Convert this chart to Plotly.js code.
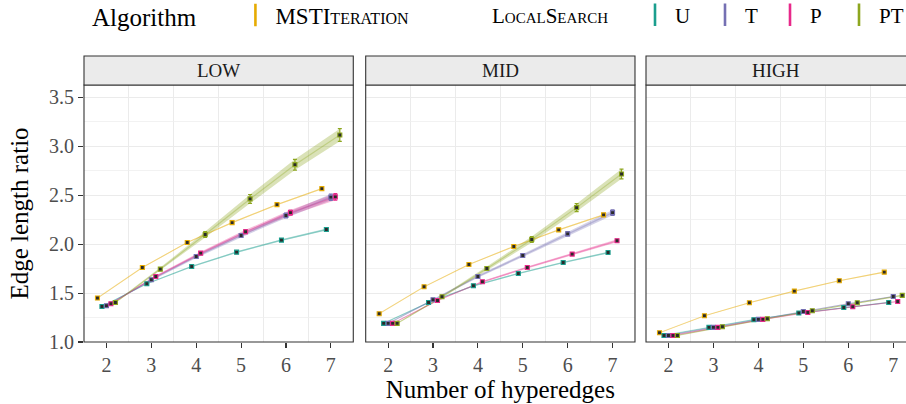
<!DOCTYPE html>
<html><head><meta charset="utf-8">
<script src="https://cdn.plot.ly/plotly-3.0.1.min.js"></script>
<style>html,body{margin:0;padding:0;background:#fff}#chart{width:906px;height:404px}</style>
</head><body><div id="chart"></div>
<script>
// ---- data ----
const hyperedges = [2, 3, 4, 5, 6, 7];
const panels = ['LOW', 'MID', 'HIGH'];
const algorithms = ['MSTIteration', 'U', 'T', 'P', 'PT'];
const legendTitle = 'Algorithm';
const legendGroupLabel = 'LocalSearch';

// mean edge length ratio per panel / algorithm
const low_MST = [1.449, 1.761, 2.016, 2.220, 2.404, 2.567];
const low_U   = [1.363, 1.595, 1.771, 1.918, 2.041, 2.149];
const low_T   = [1.370, 1.636, 1.873, 2.088, 2.292, 2.480];
const low_P   = [1.391, 1.669, 1.908, 2.126, 2.322, 2.483];
const low_PT  = [1.404, 1.745, 2.098, 2.462, 2.812, 3.115];

const mid_MST = [1.289, 1.564, 1.792, 1.976, 2.146, 2.299];
const mid_U   = [1.190, 1.404, 1.574, 1.700, 1.812, 1.914];
const mid_T   = [1.190, 1.432, 1.669, 1.884, 2.105, 2.322];
const mid_P   = [1.190, 1.424, 1.615, 1.761, 1.898, 2.034];
const mid_PT  = [1.190, 1.462, 1.751, 2.047, 2.373, 2.717];

const high_MST = [1.095, 1.268, 1.401, 1.520, 1.626, 1.714];
const high_U   = [1.067, 1.149, 1.228, 1.296, 1.353, 1.404];
const high_T   = [1.067, 1.149, 1.231, 1.312, 1.391, 1.465];
const high_P   = [1.067, 1.149, 1.231, 1.302, 1.360, 1.414];
const high_PT  = [1.067, 1.156, 1.238, 1.319, 1.401, 1.476];

// confidence half-widths
const low_MST_err = [0.004, 0.005, 0.005, 0.006, 0.006, 0.007];
const low_U_err   = [0.004, 0.006, 0.007, 0.008, 0.009, 0.010];
const low_T_err   = [0.005, 0.010, 0.015, 0.020, 0.025, 0.032];
const low_P_err   = [0.005, 0.010, 0.015, 0.020, 0.026, 0.034];
const low_PT_err  = [0.006, 0.015, 0.030, 0.045, 0.055, 0.065];

const mid_MST_err = [0.004, 0.004, 0.005, 0.005, 0.006, 0.006];
const mid_U_err   = [0.004, 0.005, 0.006, 0.007, 0.008, 0.009];
const mid_T_err   = [0.004, 0.008, 0.012, 0.016, 0.022, 0.028];
const mid_P_err   = [0.004, 0.006, 0.008, 0.010, 0.012, 0.015];
const mid_PT_err  = [0.004, 0.010, 0.020, 0.030, 0.040, 0.050];

const high_MST_err = [0.003, 0.004, 0.004, 0.005, 0.005, 0.006];
const high_U_err   = [0.003, 0.003, 0.004, 0.004, 0.005, 0.005];
const high_T_err   = [0.003, 0.003, 0.004, 0.005, 0.005, 0.006];
const high_P_err   = [0.003, 0.003, 0.004, 0.004, 0.005, 0.006];
const high_PT_err  = [0.003, 0.004, 0.004, 0.005, 0.006, 0.006];

const values = {
  LOW:  [low_MST, low_U, low_T, low_P, low_PT],
  MID:  [mid_MST, mid_U, mid_T, mid_P, mid_PT],
  HIGH: [high_MST, high_U, high_T, high_P, high_PT]
};
const errors = {
  LOW:  [low_MST_err, low_U_err, low_T_err, low_P_err, low_PT_err],
  MID:  [mid_MST_err, mid_U_err, mid_T_err, mid_P_err, mid_PT_err],
  HIGH: [high_MST_err, high_U_err, high_T_err, high_P_err, high_PT_err]
};

// ---- style ----
const colors = ['#E6AB02', '#1B9E8E', '#7570B3', '#E7298A', '#8DA61F'];
const dodge = [-0.2, -0.1, 0, 0.1, 0.2];
function rgba(hex, a) {
  const n = parseInt(hex.slice(1), 16);
  return 'rgba(' + ((n >> 16) & 255) + ',' + ((n >> 8) & 255) + ',' + (n & 255) + ',' + a + ')';
}
const FONT = '"Liberation Serif", "DejaVu Serif", serif';
const NB = '\u00a0';

const traces = [];
// legend entries (one Plotly legend per entry so they can be spaced like the original)
const legendIds = ['legend', 'legend2', 'legend3', 'legend4', 'legend5', 'legend6'];
traces.push({x: [null], y: [null], mode: 'markers', name: algorithms[0], legend: 'legend',
  marker: {symbol: 'line-ns', size: 16, color: colors[0], line: {color: colors[0], width: 2.6}}});
traces.push({x: [null], y: [null], mode: 'markers', name: legendGroupLabel, legend: 'legend2',
  marker: {symbol: 'square', size: 1, color: 'rgba(0,0,0,0)', line: {width: 0}}});
for (let a = 1; a < algorithms.length; a++) {
  traces.push({x: [null], y: [null], mode: 'markers', name: algorithms[a], legend: legendIds[a + 1],
    marker: {symbol: 'line-ns', size: 16, color: colors[a], line: {color: colors[a], width: 2.6}}});
}

panels.forEach((p, i) => {
  const xa = i === 0 ? 'x' : 'x' + (i + 1);
  const ya = i === 0 ? 'y' : 'y' + (i + 1);
  algorithms.forEach((alg, a) => {
    const xs = hyperedges.map(n => n + dodge[a]);
    const v = values[p][a], e = errors[p][a];
    traces.push({x: xs, y: v.map((d, k) => d - e[k]), xaxis: xa, yaxis: ya, mode: 'lines',
      line: {width: 0, color: 'rgba(0,0,0,0)'}, showlegend: false, hoverinfo: 'skip'});
    traces.push({x: xs, y: v.map((d, k) => d + e[k]), xaxis: xa, yaxis: ya, mode: 'lines',
      fill: 'tonexty', fillcolor: rgba(colors[a], 0.32),
      line: {width: 0, color: 'rgba(0,0,0,0)'}, showlegend: false, hoverinfo: 'skip'});
  });
  algorithms.forEach((alg, a) => {
    traces.push({x: hyperedges.map(n => n + dodge[a]), y: values[p][a], xaxis: xa, yaxis: ya,
      mode: 'lines', line: {width: 1.2, color: rgba(colors[a], 0.33)}, showlegend: false, hoverinfo: 'skip'});
  });
  algorithms.forEach((alg, a) => {
    traces.push({x: hyperedges.map(n => n + dodge[a]), y: values[p][a], xaxis: xa, yaxis: ya,
      mode: 'markers', name: alg, showlegend: false,
      marker: {symbol: 'square', size: 4, color: '#2a2a2a', line: {color: colors[a], width: 1.1}},
      error_y: {type: 'data', array: errors[p][a], visible: true, color: colors[a], thickness: 1.2, width: 2}});
  });
});

const domains = [[0, 0.3276], [0.3427, 0.6703], [0.6837, 1]];
const xRanges = [[1.5, 7.5], [1.5, 7.5], [1.5, 7.284]];
const layout = {
  width: 906, height: 404,
  margin: {l: 84, r: 0, t: 85, b: 62, pad: 0, autoexpand: false},
  paper_bgcolor: '#ffffff', plot_bgcolor: '#ffffff',
  font: {family: FONT, color: '#000000', size: 18},
  showlegend: true,
  shapes: [],
  annotations: []
};
// legend placement: left edge of each legend box in pixels
const legendLeftPx = [90, 452, 635, 705, 770, 839];
const legendFontPx = [23, 21, 21, 21, 21, 21];
const legendBase = {
  orientation: 'h', traceorder: 'normal', xanchor: 'left', y: 1.272, yanchor: 'middle',
  bgcolor: 'rgba(0,0,0,0)', borderwidth: 0, itemclick: false, itemdoubleclick: false
};
legendIds.forEach((id, k) => {
  layout[id] = Object.assign({}, legendBase, {
    x: (legendLeftPx[k] - 84) / 822,
    font: {family: FONT, size: legendFontPx[k], color: '#000000', variant: 'small-caps'}
  });
});
layout.legend.title = {text: legendTitle + NB.repeat(5), side: 'left',
  font: {family: FONT, size: 25, color: '#000000', variant: 'normal'}};

panels.forEach((p, i) => {
  const sfx = i === 0 ? '' : String(i + 1);
  layout['xaxis' + sfx] = {
    domain: domains[i], range: xRanges[i], anchor: 'y' + sfx,
    tickmode: 'linear', tick0: 2, dtick: 1,
    ticks: 'outside', ticklen: 5, tickwidth: 1.1, tickcolor: '#333333',
    showgrid: false, zeroline: false, showline: false,
    tickfont: {family: FONT, size: 20, color: '#4D4D4D'},
    minor: {tick0: 1.5, dtick: 1, showgrid: true, gridcolor: '#EBEBEB', gridwidth: 1, ticks: ''},
    fixedrange: true
  };
  layout['yaxis' + sfx] = {
    domain: [0, 1], range: [1.0, 3.626], anchor: 'x' + sfx,
    tickmode: 'linear', tick0: 1, dtick: 0.5, tickformat: '.1f',
    ticks: i === 0 ? 'outside' : '', ticklen: 5, tickwidth: 1.1, tickcolor: '#333333',
    showticklabels: i === 0,
    showgrid: true, gridcolor: '#EBEBEB', gridwidth: 1.1,
    minor: {tick0: 1, dtick: 0.25, showgrid: true, gridcolor: '#EFEFEF', gridwidth: 0.8, ticks: ''},
    zeroline: false, showline: false,
    tickfont: {family: FONT, size: 20, color: '#4D4D4D'},
    fixedrange: true
  };
  if (i > 0) layout['yaxis' + sfx].matches = 'y';
  const xr = i === 2 ? 1.05 : 1;
  layout.shapes.push({type: 'rect', xref: 'x' + sfx + ' domain', yref: 'y' + sfx + ' domain',
    x0: 0, x1: xr, y0: 0, y1: 1, line: {color: '#333333', width: 1.1}, fillcolor: 'rgba(0,0,0,0)', layer: 'above'});
  layout.shapes.push({type: 'rect', xref: 'x' + sfx + ' domain', yref: 'paper',
    x0: 0, x1: xr, y0: 1, y1: 1.1127, line: {color: '#333333', width: 1.1}, fillcolor: '#EBEBEB', layer: 'above'});
  layout.annotations.push({text: p, xref: 'x' + sfx + ' domain', x: 0.5, yref: 'paper', y: 1.0563,
    xanchor: 'center', yanchor: 'middle', showarrow: false,
    font: {family: FONT, size: 19, color: '#1A1A1A'}});
});
layout.yaxis.title = {text: 'Edge length ratio', font: {family: FONT, size: 25, color: '#000'}, standoff: 13};
layout.xaxis2.title = {text: 'Number of hyperedges', font: {family: FONT, size: 25, color: '#000'}, standoff: 4};

Plotly.newPlot('chart', traces, layout, {displayModeBar: false, staticPlot: true});
</script></body></html>
